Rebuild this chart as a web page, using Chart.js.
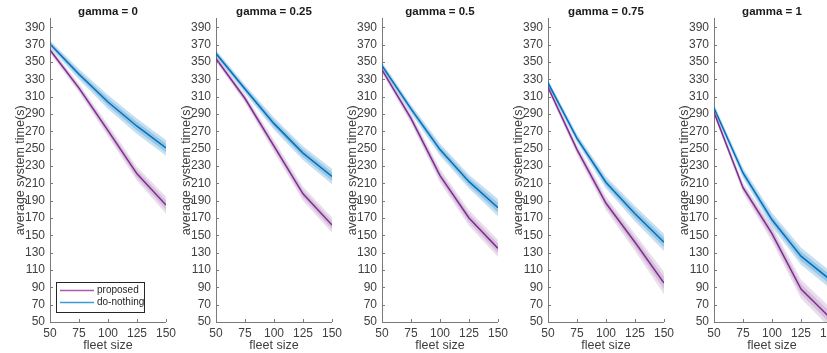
<!DOCTYPE html>
<html>
<head>
<meta charset="utf-8">
<script src="https://cdn.jsdelivr.net/npm/chart.js@4"></script>
<style>
    html, body { margin: 0; padding: 0; background: #ffffff; overflow: hidden; }
    #wrap { position: relative; width: 827px; height: 353px; overflow: hidden; }
    .panel { position: absolute; top: 0; width: 180px; height: 353px; }
</style>
</head>
<body>
<div id="wrap">
    <div class="panel" style="left:0px"><canvas id="grafico0" width="180" height="353"></canvas></div>
    <div class="panel" style="left:166px"><canvas id="grafico1" width="180" height="353"></canvas></div>
    <div class="panel" style="left:332px"><canvas id="grafico2" width="180" height="353"></canvas></div>
    <div class="panel" style="left:498px"><canvas id="grafico3" width="180" height="353"></canvas></div>
    <div class="panel" style="left:664px"><canvas id="grafico4" width="180" height="353"></canvas></div>
</div>
<script>
// dados
const fleetSizes = [50, 75, 100, 125, 150];
const gammas = ["0", "0.25", "0.5", "0.75", "1"];
const xTicks = [50, 75, 100, 125, 150];
const yTicks = [50, 70, 90, 110, 130, 150, 170, 190, 210, 230, 250, 270, 290, 310, 330, 350, 370, 390];

const proposedG0 = [364, 320, 271, 221, 185];
const proposedG025 = [354, 308, 253, 198, 162];
const proposedG05 = [341, 285, 219, 170, 135];
const proposedG075 = [321, 249, 187, 142, 95];
const proposedG1 = [292, 205, 152, 88, 55];

const doNothingG0 = [371, 336, 304, 276, 251];
const doNothingG025 = [360, 319, 279, 245, 218];
const doNothingG05 = [346, 296, 249, 212, 182];
const doNothingG075 = [326, 262, 211, 175, 142];
const doNothingG1 = [297, 222, 168, 126, 99];

// meia largura das faixas sombreadas
const proposedSpreadG0 = [4, 5, 7, 8, 10];
const proposedSpreadG025 = [4, 5, 7, 8, 9];
const proposedSpreadG05 = [4, 6, 8, 9, 10];
const proposedSpreadG075 = [4, 6, 8, 10, 13];
const proposedSpreadG1 = [4, 6, 9, 11, 12];

const doNothingSpreadG0 = [4, 6, 8, 9, 9];
const doNothingSpreadG025 = [4, 5, 7, 8, 9];
const doNothingSpreadG05 = [4, 5, 7, 8, 10];
const doNothingSpreadG075 = [4, 5, 7, 9, 10];
const doNothingSpreadG1 = [4, 6, 8, 10, 10];

const proposedAll = [proposedG0, proposedG025, proposedG05, proposedG075, proposedG1];
const doNothingAll = [doNothingG0, doNothingG025, doNothingG05, doNothingG075, doNothingG1];
const proposedSpreadAll = [proposedSpreadG0, proposedSpreadG025, proposedSpreadG05, proposedSpreadG075, proposedSpreadG1];
const doNothingSpreadAll = [doNothingSpreadG0, doNothingSpreadG025, doNothingSpreadG05, doNothingSpreadG075, doNothingSpreadG1];

const seriesNames = ["proposed", "do-nothing"];
const purple = "#7E2F8E";
const blue = "#0072BD";
const axisColor = "#7a7a7a";
const textColor = "#404040";
const fontFamily = "'Liberation Sans', Arial, sans-serif";

function toPoints(values) {
    return values.map((v, i) => ({ x: fleetSizes[i], y: v }));
}

function bandDatasets(values, spread, rgb, outerAlpha, innerAlpha) {
    const up = (k) => toPoints(values.map((v, i) => v + spread[i] * k));
    const down = (k) => toPoints(values.map((v, i) => v - spread[i] * k));
    const base = { pointRadius: 0, borderWidth: 0, order: 2 };
    return [
        { ...base, data: up(1), fill: false, backgroundColor: "transparent" },
        { ...base, data: down(1), fill: "-1", backgroundColor: `rgba(${rgb},${outerAlpha})` },
        { ...base, data: up(0.55), fill: false, backgroundColor: "transparent" },
        { ...base, data: down(0.55), fill: "-1", backgroundColor: `rgba(${rgb},${innerAlpha})` },
    ];
}

// ticks para dentro, estilo matlab
const inwardTicks = {
    id: "inwardTicks",
    afterDraw(chart) {
        const ctx = chart.ctx;
        const a = chart.chartArea;
        const xs = chart.scales.x;
        const ys = chart.scales.y;
        ctx.save();
        ctx.strokeStyle = axisColor;
        ctx.lineWidth = 1;
        ctx.beginPath();
        ys.ticks.forEach((t) => {
            const py = Math.round(ys.getPixelForValue(t.value)) + 0.5;
            ctx.moveTo(a.left, py);
            ctx.lineTo(a.left + 3, py);
        });
        xs.ticks.forEach((t) => {
            const px = Math.round(xs.getPixelForValue(t.value)) + 0.5;
            ctx.moveTo(px, a.bottom);
            ctx.lineTo(px, a.bottom - 3);
        });
        ctx.stroke();
        ctx.restore();
    },
};

// legenda em caixa dentro da área do gráfico
const boxLegend = {
    id: "boxLegend",
    afterDraw(chart, args, opts) {
        if (!opts.display) return;
        const ctx = chart.ctx;
        const a = chart.chartArea;
        const items = chart.data.datasets.filter((d) => d.label);
        const w = 88, h = 30;
        const x0 = a.left + 6, y0 = a.bottom - 10 - h;
        ctx.save();
        ctx.fillStyle = "#ffffff";
        ctx.fillRect(x0, y0, w, h);
        ctx.strokeStyle = "#262626";
        ctx.lineWidth = 1;
        ctx.strokeRect(x0 + 0.5, y0 + 0.5, w, h);
        ctx.font = `10px ${fontFamily}`;
        ctx.textBaseline = "middle";
        items.forEach((d, i) => {
            const cy = y0 + 8.5 + i * 12;
            ctx.strokeStyle = d.legendColor;
            ctx.lineWidth = 1.5;
            ctx.beginPath();
            ctx.moveTo(x0 + 4, cy);
            ctx.lineTo(x0 + 38, cy);
            ctx.stroke();
            ctx.fillStyle = "#262626";
            ctx.fillText(d.label, x0 + 41, cy);
        });
        ctx.restore();
    },
};

function createChart(idx) {
    const canvas = document.getElementById("grafico" + idx);
    const datasets = [
        {
            label: seriesNames[0],
            data: toPoints(proposedAll[idx]),
            borderColor: purple,
            legendColor: "#a65cb5",
            borderWidth: 1.5,
            pointRadius: 0,
            fill: false,
            order: 0,
        },
        {
            label: seriesNames[1],
            data: toPoints(doNothingAll[idx]),
            borderColor: blue,
            legendColor: "#3c9ad6",
            borderWidth: 1.5,
            pointRadius: 0,
            fill: false,
            order: 0,
        },
        ...bandDatasets(proposedAll[idx], proposedSpreadAll[idx], "126,47,142", 0.16, 0.18),
        ...bandDatasets(doNothingAll[idx], doNothingSpreadAll[idx], "0,114,189", 0.22, 0.24),
    ];

    new Chart(canvas, {
        type: "line",
        data: { datasets: datasets },
        options: {
            responsive: false,
            animation: false,
            layout: { padding: { left: 0, right: 12, top: 0, bottom: 0 } },
            scales: {
                x: {
                    type: "linear",
                    min: 50,
                    max: 150,
                    afterBuildTicks: (scale) => { scale.ticks = xTicks.map((v) => ({ value: v })); },
                    afterFit: (scale) => { scale.height = 31; },
                    grid: { display: false, drawTicks: false },
                    border: { display: true, color: axisColor, width: 1 },
                    ticks: { color: textColor, padding: 4, maxRotation: 0, font: { family: fontFamily, size: 12 } },
                    title: { display: true, text: "fleet size", color: textColor, padding: { top: 3, bottom: 0 }, font: { family: fontFamily, size: 12.5 } },
                },
                y: {
                    min: 50,
                    max: 400,
                    afterBuildTicks: (scale) => { scale.ticks = yTicks.map((v) => ({ value: v })); },
                    afterFit: (scale) => { scale.width = 50; },
                    grid: { display: false, drawTicks: false },
                    border: { display: true, color: axisColor, width: 1 },
                    ticks: { color: textColor, padding: 5, font: { family: fontFamily, size: 12 } },
                    title: { display: true, text: "average system time(s)", color: textColor, padding: { top: 13, bottom: 0 }, font: { family: fontFamily, size: 12.5 } },
                },
            },
            plugins: {
                legend: { display: false },
                tooltip: { enabled: false },
                title: {
                    display: true,
                    fullSize: false,
                    text: "gamma = " + gammas[idx],
                    color: "#1a1a1a",
                    padding: { top: 5, bottom: 0 },
                    font: { family: fontFamily, size: 11.5, weight: "bold" },
                },
                boxLegend: { display: idx === 0 },
            },
        },
        plugins: [inwardTicks, boxLegend],
    });
}

gammas.forEach((g, i) => createChart(i));
</script>
</body>
</html>
